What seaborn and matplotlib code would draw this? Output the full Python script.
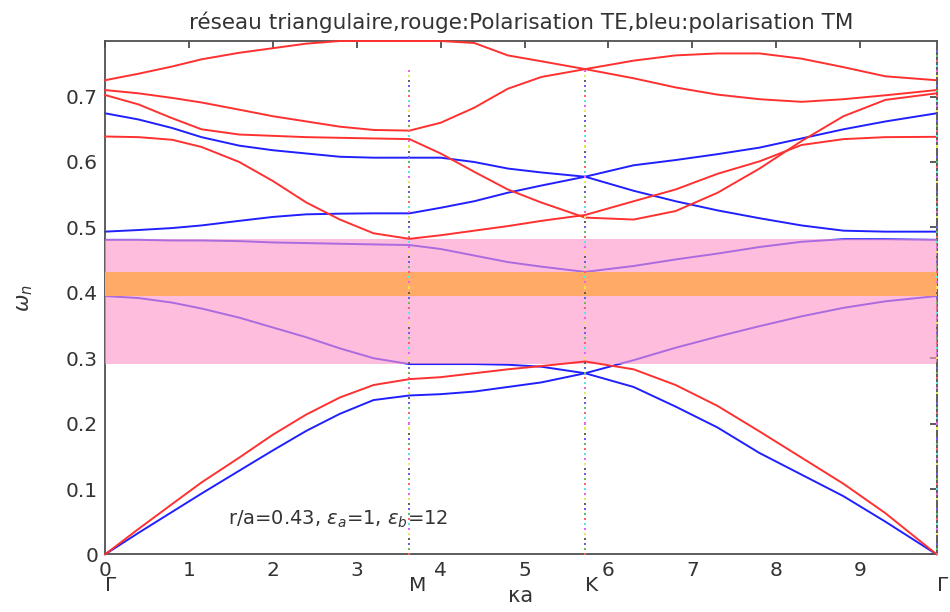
import numpy as np
import pandas as pd
import matplotlib
matplotlib.use("Agg")
import matplotlib.pyplot as plt
import seaborn as sns

# ---- data -----------------------------------------------------------
GM, MK, KG = 3.628, 5.722, 9.911          # symmetry points along the path
sym_pos = [0.0, GM, MK, KG]
sym_labels = ["Γ", "M", "K", "Γ"]

k = [0.0, 0.4, 0.8, 1.15, 1.6, 2.0, 2.4, 2.8, 3.2, 3.628, 4.0, 4.4, 4.8, 5.2,
     5.722, 6.3, 6.8, 7.3, 7.8, 8.3, 8.8, 9.3, 9.911]

# TM bands (blue)
tm1 = [0, 0.033, 0.065, 0.093, 0.128, 0.159, 0.189, 0.215, 0.236, 0.243, 0.245, 0.249,
       0.256, 0.263, 0.277, 0.256, 0.226, 0.194, 0.155, 0.122, 0.089, 0.050, 0]
tm2 = [0.395, 0.392, 0.385, 0.376, 0.362, 0.347, 0.332, 0.315, 0.300, 0.291, 0.291, 0.291,
       0.290, 0.287, 0.277, 0.297, 0.316, 0.333, 0.349, 0.364, 0.377, 0.387, 0.395]
tm3 = [0.481, 0.481, 0.480, 0.480, 0.479, 0.477, 0.476, 0.475, 0.474, 0.473, 0.467, 0.457,
       0.447, 0.440, 0.432, 0.441, 0.451, 0.460, 0.470, 0.478, 0.482, 0.482, 0.481]
tm4 = [0.4935, 0.496, 0.499, 0.503, 0.510, 0.516, 0.520, 0.521, 0.5215, 0.5215, 0.530, 0.540,
       0.553, 0.564, 0.5775, 0.556, 0.540, 0.526, 0.514, 0.503, 0.495, 0.4935, 0.4935]
tm5 = [0.6745, 0.665, 0.652, 0.638, 0.625, 0.618, 0.613, 0.608, 0.6066, 0.6066, 0.6066, 0.600,
       0.590, 0.584, 0.5775, 0.595, 0.603, 0.612, 0.622, 0.636, 0.650, 0.662, 0.6745]

# TE bands (red)
te1 = [0, 0.039, 0.077, 0.110, 0.148, 0.183, 0.214, 0.240, 0.259, 0.268, 0.271, 0.277,
       0.283, 0.288, 0.295, 0.283, 0.259, 0.227, 0.188, 0.148, 0.108, 0.063, 0]
te2 = [0.639, 0.638, 0.634, 0.623, 0.600, 0.571, 0.538, 0.512, 0.491, 0.4825, 0.488, 0.495,
       0.502, 0.510, 0.519, 0.540, 0.558, 0.582, 0.601, 0.626, 0.635, 0.638, 0.6385]
te3 = [0.7025, 0.688, 0.667, 0.650, 0.642, 0.640, 0.638, 0.637, 0.636, 0.635, 0.613, 0.585,
       0.558, 0.538, 0.515, 0.512, 0.525, 0.553, 0.590, 0.632, 0.670, 0.695, 0.705]
te4 = [0.710, 0.705, 0.698, 0.691, 0.680, 0.670, 0.662, 0.654, 0.649, 0.648, 0.660, 0.683,
       0.712, 0.730, 0.742, 0.755, 0.763, 0.766, 0.766, 0.758, 0.745, 0.731, 0.725]
te5 = [0.725, 0.735, 0.746, 0.757, 0.767, 0.774, 0.781, 0.785, 0.785, 0.785, 0.785, 0.782,
       0.763, 0.754, 0.742, 0.728, 0.714, 0.703, 0.696, 0.692, 0.696, 0.702, 0.710]

te_gap = (0.291, 0.482)     # pink band
full_gap = (0.395, 0.432)   # orange band
vline_top = 0.743
ymax = 0.785

title = "réseau triangulaire,rouge:Polarisation TE,bleu:polarisation TM"
note = r"r/a=0.43, $\varepsilon_a$=1, $\varepsilon_b$=12"

# ---- build long table -----------------------------------------------
rows = []
for name, vals in [("tm1", tm1), ("tm2", tm2), ("tm3", tm3), ("tm4", tm4), ("tm5", tm5)]:
    rows += [dict(k=kk, w=v, band=name, pol="TM") for kk, v in zip(k, vals)]
for name, vals in [("te1", te1), ("te2", te2), ("te3", te3), ("te4", te4), ("te5", te5)]:
    rows += [dict(k=kk, w=v, band=name, pol="TE") for kk, v in zip(k, vals)]
df = pd.DataFrame(rows)

sns.set_style("white")
plt.rcParams["font.family"] = ["DejaVu Sans"]
plt.rcParams["mathtext.fontset"] = "dejavusans"

fig = plt.figure(figsize=(9.5, 6.12), dpi=100)
ax = fig.add_axes([0.1105, 0.0941, 0.8755, 0.8389])

sns.lineplot(data=df[df.pol == "TM"], x="k", y="w", units="band", estimator=None,
             sort=False, color="#2020ff", lw=1.4, ax=ax, zorder=2, legend=False)
ax.axhspan(*te_gap, color=(254/255, 151/255, 202/255), alpha=0.63, lw=0, zorder=3)
ax.axhspan(*full_gap, color="#ffaa66", lw=0, zorder=3.5)
sns.lineplot(data=df[df.pol == "TE"], x="k", y="w", units="band", estimator=None,
             sort=False, color="#ff3030", lw=1.4, ax=ax, zorder=4, legend=False)
for ln in ax.lines:
    ln.set_clip_on(False)

# multicolour dotted lines at symmetry points
cyc = ["#ff6060", "#60c060", "#6060ff", "#606060", "#e8e850", "#f060f0", "#50e8e8"]
for xs, top in [(GM, vline_top), (MK, vline_top), (KG, ymax)]:
    ys = np.arange(0, top, 0.0077)
    cols = [cyc[i % len(cyc)] for i in range(len(ys))]
    ax.scatter(np.full(len(ys), xs), ys, c=cols, s=2.2, marker="s", lw=0, zorder=5,
               clip_on=False)

ax.set_xlim(0, KG)
ax.set_ylim(0, ymax)
ax.set_xticks(range(10))
ax.set_yticks([0, 0.1, 0.2, 0.3, 0.4, 0.5, 0.6, 0.7])
ax.set_yticklabels(["0", "0.1", "0.2", "0.3", "0.4", "0.5", "0.6", "0.7"])
ax.tick_params(direction="in", top=True, right=True, length=5, width=1.2,
               colors="#404040", labelsize=14.5, labelcolor="#333333", pad=5)
for sp in ax.spines.values():
    sp.set_color("#505050")
    sp.set_linewidth(1.3)

for xs, lab in zip(sym_pos, sym_labels):
    ax.text(xs, -0.048, lab, ha="left", va="center", fontsize=14.5, color="#333333",
            clip_on=False)

ax.set_xlabel("κa", fontsize=15, color="#333333", labelpad=4)
ax.set_ylabel(r"$\omega_n$", fontsize=15, color="#333333", labelpad=22)
ax.set_title(title, fontsize=15.5, color="#333333", pad=9)
ax.text(1.47, 0.053, note, ha="left", va="center", fontsize=14, color="#333333")

fig.savefig("out.png", dpi=100)
